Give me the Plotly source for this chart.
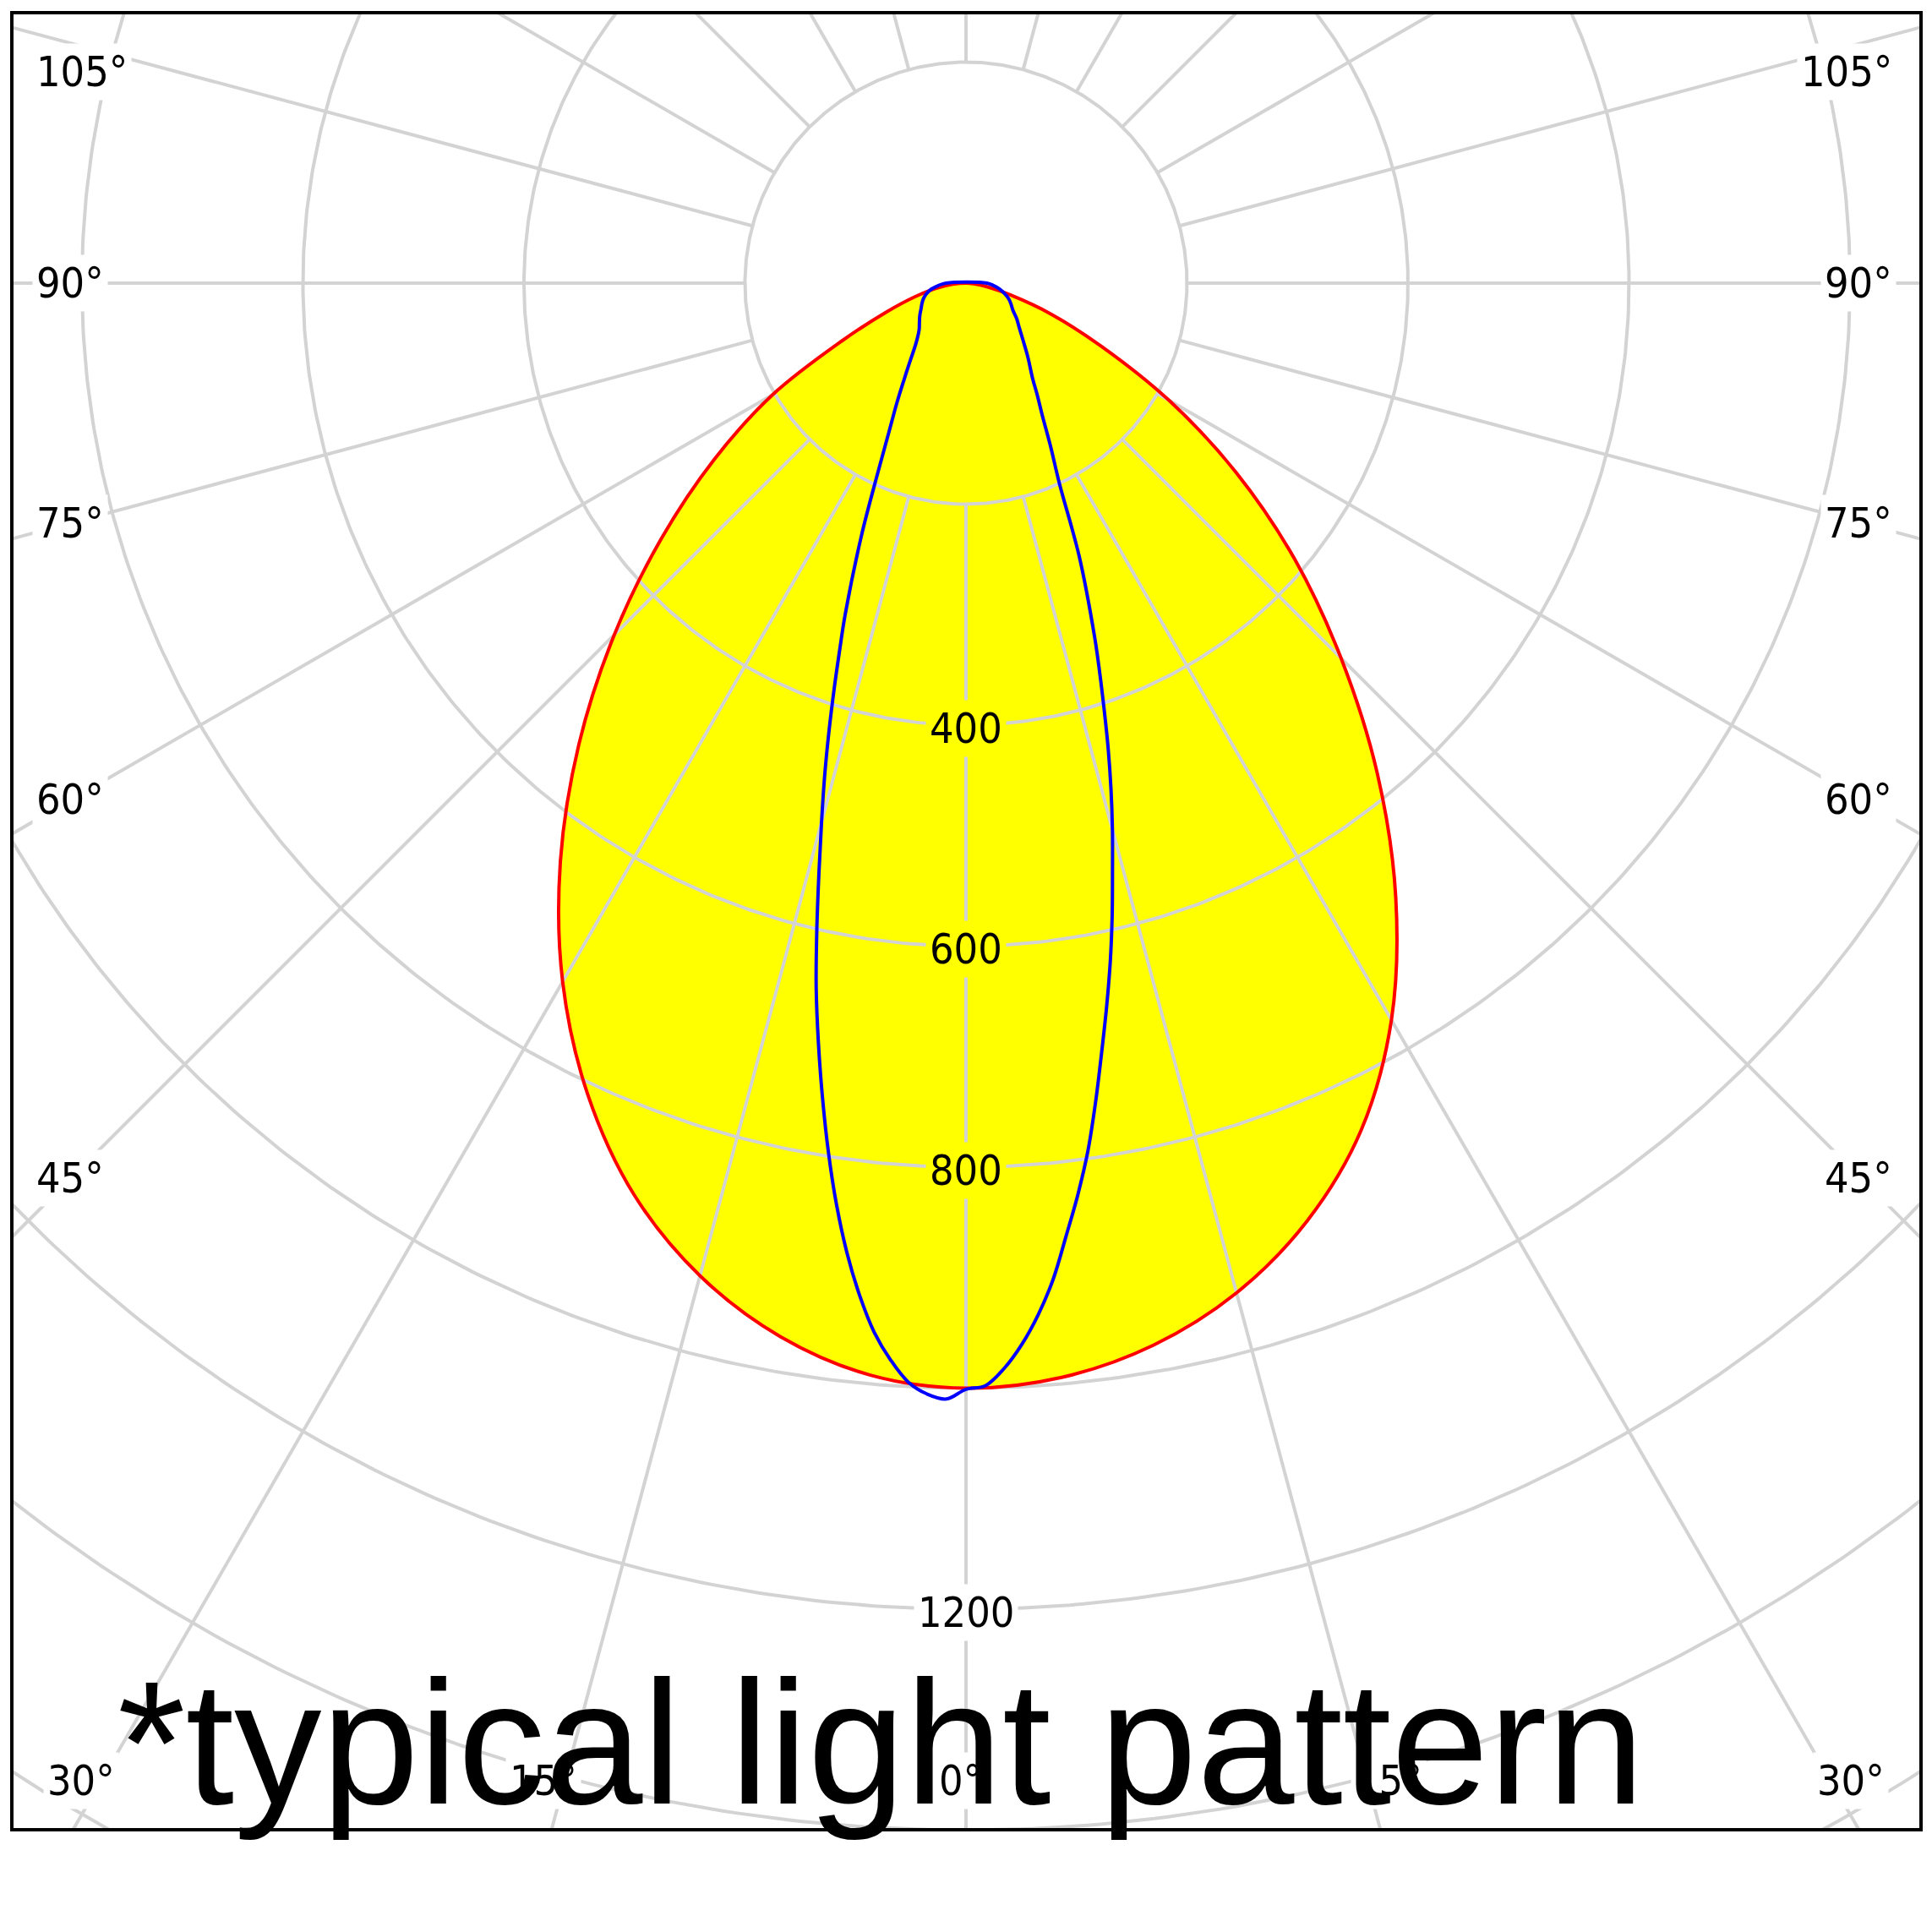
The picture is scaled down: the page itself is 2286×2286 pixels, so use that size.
import numpy as np
import plotly.graph_objects as go

# ---------------- data (cd/klm), angles in degrees from nadir ----------------
red_angles = [0, 5, 10, 15, 20, 25, 30, 35, 40, 45, 50, 55, 60, 65, 70, 75, 80, 85, 90]
red_right = [1000, 994, 976, 946, 903, 846, 770, 678, 579, 480, 388, 298, 212, 135, 82, 42, 20, 7, 0]
red_left = [1000, 992, 968, 930, 878, 810, 730, 640, 545, 450, 360, 278, 202, 124, 77, 48, 28, 12, 0]

blue_angles = [0, 1, 2, 3, 4, 5, 6, 7, 8, 9, 10, 11, 12, 13, 14, 15, 16, 17, 18, 19, 20,
               22.5, 25, 27.5, 30, 32.5, 35, 40, 45, 50, 55, 60, 65, 70, 75, 80, 85, 90]
blue_right = [1001, 998, 983, 962, 936, 905, 867, 831, 793, 750, 707, 667, 628, 588, 548, 512, 476, 440, 404, 371, 340,
              268, 200, 165, 138, 120, 105, 87, 73, 63, 56, 49, 45, 41, 36, 31, 25, 19]
blue_left = [1001, 1010, 1006, 996, 977, 953, 921, 884, 842, 796, 748, 700, 652, 600, 550, 505, 464, 424, 386, 351, 320,
             247, 188, 150, 125, 105, 90, 70, 60, 55, 51, 47, 44, 41, 37, 32, 25, 18]

ring_values = [200, 400, 600, 800, 1000, 1200, 1400, 1600, 1800, 2000]
ring_label_values = [400, 600, 800, 1200]
spoke_angles = list(range(0, 360, 15))
side_label_angles = [45, 60, 75, 90, 105]
bottom_label_angles = [0, 15, 30]
caption = "*typical light pattern"

# ---------------- geometry helpers ----------------
def to_xy(angles_deg, radii):
    a = np.radians(np.asarray(angles_deg, dtype=float))
    r = np.asarray(radii, dtype=float)
    return r * np.sin(a), -r * np.cos(a)


def full_curve(angles, left, right, close=False):
    ang = [-a for a in angles[::-1]] + list(angles[1:])
    rad = list(left[::-1]) + list(right[1:])
    if close:
        ang = ang + [ang[0]]
        rad = rad + [rad[0]]
    return to_xy(ang, rad)


X_RANGE = [-861.9, 862.7]
Y_RANGE = [-1398.1, 243.2]
GRID = "#d3d3d3"

fig = go.Figure()

# yellow fill of the red plane
rx, ry = full_curve(red_angles, red_left, red_right)
fig.add_trace(go.Scatter(x=rx, y=ry, mode="lines", fill="toself", fillcolor="#ffff00",
                         line=dict(width=0, color="rgba(0,0,0,0)", shape="spline", smoothing=1.0),
                         hoverinfo="skip", showlegend=False))

# grid rings
t = np.linspace(0, 360, 721)
gx, gy = [], []
for rv in ring_values:
    x, y = to_xy(t, np.full_like(t, rv))
    gx += list(x) + [None]
    gy += list(y) + [None]
fig.add_trace(go.Scatter(x=gx, y=gy, mode="lines", line=dict(color=GRID, width=4),
                         hoverinfo="skip", showlegend=False))

# spokes (start at the first ring)
sx, sy = [], []
for a in spoke_angles:
    x, y = to_xy([a, a], [ring_values[0], 3000])
    sx += list(x) + [None]
    sy += list(y) + [None]
fig.add_trace(go.Scatter(x=sx, y=sy, mode="lines", line=dict(color=GRID, width=4),
                         hoverinfo="skip", showlegend=False))

# red outline
fig.add_trace(go.Scatter(x=rx, y=ry, mode="lines",
                         line=dict(color="#ff0000", width=4, shape="spline", smoothing=1.0),
                         hoverinfo="skip", showlegend=False))

# blue plane
bx, by = full_curve(blue_angles, blue_left, blue_right, close=True)
fig.add_trace(go.Scatter(x=bx, y=by, mode="lines",
                         line=dict(color="#0000ff", width=4, shape="spline", smoothing=1.0),
                         hoverinfo="skip", showlegend=False))

LABEL_FONT = dict(family="DejaVu Sans Condensed, DejaVu Sans, sans-serif", size=50, color="black")
annotations = []

# ring labels
for rv in ring_label_values:
    inside = rv <= 900
    annotations.append(dict(x=0, y=-rv, xref="x", yref="y", text=str(rv), showarrow=False,
                            font=LABEL_FONT, bgcolor="#ffff00" if inside else "white",
                            borderpad=4, xanchor="center", yanchor="middle", yshift=-4))

# side angle labels
RAY_X = 810.0
Y_CLAMP_TOP = 191.0
for a in side_label_angles:
    if a == 90:
        y = 0.0
    else:
        y = -RAY_X / np.tan(np.radians(a))
    y = min(y, Y_CLAMP_TOP)
    for side in (-1, 1):
        annotations.append(dict(x=-845 if side < 0 else 842, y=y, xref="x", yref="y",
                                text=f"{a}°", showarrow=False, font=LABEL_FONT, bgcolor="white",
                                borderpad=4, xanchor="left" if side < 0 else "right",
                                yanchor="middle"))

# bottom angle labels
RAY_Y = 1426.0
for a in bottom_label_angles:
    xr = min(RAY_Y * np.tan(np.radians(a)), 801.0)
    sides = (1,) if a == 0 else (-1, 1)
    for side in sides:
        annotations.append(dict(x=side * xr - (5 if a == 0 else 0), y=-1355, xref="x", yref="y",
                                text=f"{a}°", showarrow=False, font=LABEL_FONT, bgcolor="white",
                                borderpad=4, xanchor="center", yanchor="middle"))

# caption
annotations.append(dict(x=-77, y=-1321, xref="x", yref="y", text=caption, showarrow=False,
                        font=dict(family="Liberation Sans, Arial, sans-serif", size=207, color="black"),
                        xanchor="center", yanchor="middle"))

axis_common = dict(showgrid=False, zeroline=False, showticklabels=False, ticks="",
                   showline=True, mirror=True, linecolor="black", linewidth=4, fixedrange=True)

fig.update_layout(
    width=2286, height=2286,
    margin=dict(l=16, r=15, t=17, b=123, pad=0),
    paper_bgcolor="white", plot_bgcolor="white",
    xaxis=dict(range=X_RANGE, **axis_common),
    yaxis=dict(range=Y_RANGE, **axis_common),
    annotations=annotations,
    showlegend=False,
)

fig.write_html("out.html", config={"displayModeBar": False},
               post_script="document.body.style.margin='0px';")
